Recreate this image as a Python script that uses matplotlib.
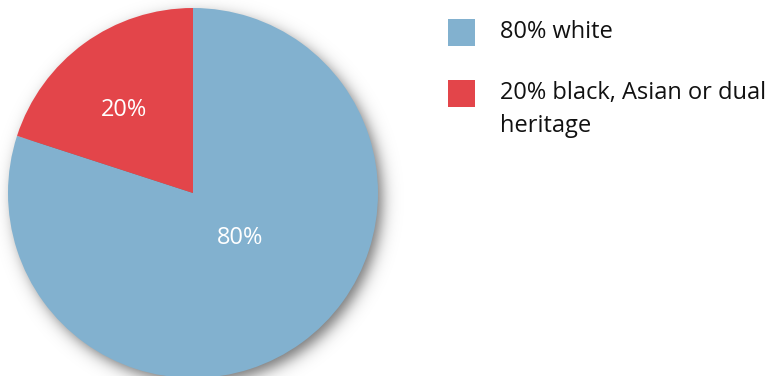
import numpy as np
import matplotlib
matplotlib.use("Agg")
import matplotlib.pyplot as plt
from matplotlib.patches import Rectangle

categories = ["80% white", "20% black, Asian or dual\nheritage"]
values = [80, 20]
slice_labels = ["80%", "20%"]
colors = ["#82b1cf", "#e3454a"]

plt.rcParams['font.family'] = ['Open Sans', 'DejaVu Sans']

W, H = 772, 376
fig = plt.figure(figsize=(W / 100, H / 100), dpi=100)
ax = fig.add_axes([0, 0, 1, 1])

cx, cy, r = 193, H - 193, 185

# soft drop shadow
yy, xx = np.mgrid[0:H, 0:W]
d = np.hypot(xx + 0.5 - (cx + 5), (H - yy - 0.5) - (cy - 6)) - r
alpha = 0.55 / (1 + np.exp((d + 1) / 4.5))
shadow = np.zeros((H, W, 4))
shadow[..., 3] = alpha
ax.imshow(shadow, extent=(0, W, 0, H), origin='upper', zorder=0, interpolation='bilinear')

wedges, texts, autotexts = ax.pie(
    values, colors=colors, startangle=90, counterclock=False,
    center=(cx, cy), radius=r, autopct='%d%%', pctdistance=0.55,
    textprops=dict(color='white', fontsize=17), frame=True,
    wedgeprops=dict(linewidth=0))
for w in wedges:
    w.set_zorder(2)
label_pos = [(240, H - 238), (124, H - 110)]
for t, lab, pos in zip(autotexts, slice_labels, label_pos):
    t.set_text(lab)
    t.set_position(pos)
    t.set_zorder(3)
    t.set_ha('center'); t.set_va('center')
ax.set_xlim(0, W)
ax.set_ylim(0, H)
ax.set_aspect('equal')
ax.axis('off')

# legend
leg_y = [32.5, 93.5]
for c, lab, y in zip(colors, categories, leg_y):
    ax.add_patch(Rectangle((448, H - y - 13.5), 27, 27, color=c, lw=0, zorder=3))
    if '\n' in lab:
        ax.text(500, H - y + 13, lab, fontsize=17, color='#111111', va='top',
                ha='left', linespacing=1.55, zorder=3)
    else:
        ax.text(500, H - y, lab, fontsize=17, color='#111111', va='center',
                ha='left', zorder=3)

fig.savefig('out.png', dpi=100)
